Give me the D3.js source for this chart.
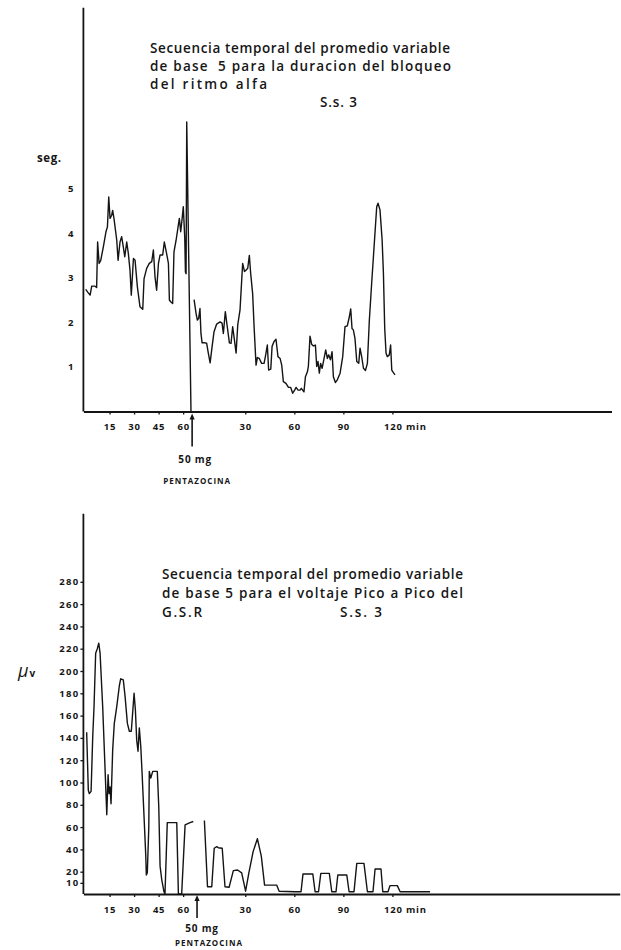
<!DOCTYPE html>
<html>
<head>
<meta charset="utf-8">
<script src="https://cdn.jsdelivr.net/npm/d3@7"></script>
<style>
  html, body { margin: 0; padding: 0; background: #fff; }
  svg { display: block; }
  text { font-family: "Open Sans", "DejaVu Sans", sans-serif; fill: #161616; }
</style>
</head>
<body>
<script>
// ---------- Alpha-block duration (seconds), moving average of 5 ----------
// time in elapsed minutes from start of the record
const alphaPreMin = [0.4,2.0,3.1,4.1,6.1,7.1,7.7,8.6,9.6,11.2,12.8,13.7,14.5,15.3,16.3,16.9,17.7,19.4,20.2,21.4,
  22.4,23.4,24.3,25.5,26.5,27.5,28.3,29.6,30.6,32.0,33.6,35.3,36.1,37.7,39.3,40.8,41.8,42.8,43.8,44.9,
  45.9,47.5,48.5,49.9,51.0,51.6,52.4,53.6,54.4,55.7,56.9,57.7,58.5,59.3,60.1,61.0,61.4,61.8,62.2,64.8];
const alphaPreSec = [2.74,2.66,2.61,2.81,2.81,2.78,3.80,3.32,3.39,3.69,4.03,4.14,4.81,4.33,4.40,4.51,4.33,3.84,3.39,3.80,
  3.92,3.69,3.47,3.80,3.54,3.17,2.61,3.43,3.39,2.80,2.35,2.29,2.98,3.21,3.32,3.36,3.62,3.02,2.72,3.32,
  3.51,3.51,3.80,3.54,3.32,2.50,2.46,2.42,3.58,3.84,4.14,4.33,4.03,4.29,4.59,3.88,3.13,3.09,6.49,0];
const alphaPostMin = [66.7,67.9,68.7,69.5,70.3,70.9,71.6,73.4,74.4,75.4,76.5,77.7,78.9,80.5,82.6,83.8,84.6,85.8,87.0,88.3,
  89.3,90.3,91.1,92.4,93.4,94.8,95.6,96.4,97.5,98.5,99.5,100.5,101.3,102.5,103.4,104.6,105.4,106.6,108.0,109.5,
  110.3,111.5,112.3,113.6,114.4,115.6,116.8,118.0,119.3,120.3,121.3,122.9,124.4,125.8,127.0,128.2,129.1,130.3,131.5,132.3,
  133.1,133.9,134.8,136.0,136.6,137.6,138.6,139.7,140.9,141.7,142.5,143.3,144.1,145.0,146.2,147.2,148.2,149.0,150.1,151.1,
  151.9,153.1,154.3,156.0,157.6,159.0,160.4,161.7,162.5,163.3,164.1,165.1,166.2,167.4,168.2,169.2,170.3,171.5,172.7,173.9,
  175.3,176.8,178.4,179.2,180.4,181.7,182.5,183.3,184.1,184.9,186.1,186.9,187.6,188.6,189.6];
const alphaPostSec = [2.51,2.20,2.05,2.09,2.31,1.75,1.54,1.54,1.53,1.31,1.09,1.45,1.79,1.96,2.01,1.98,1.75,2.24,1.90,1.54,
  1.53,1.90,1.68,1.31,1.94,2.28,2.80,3.32,3.14,3.17,3.21,3.50,3.10,2.65,1.90,1.04,1.21,1.19,1.08,1.08,
  1.23,1.49,0.93,0.95,1.46,1.57,1.62,1.23,1.19,1.04,0.67,0.63,0.54,0.54,0.41,0.48,0.54,0.48,0.48,0.52,
  0.48,0.44,0.78,0.89,1.01,1.69,1.51,1.47,1.49,1.01,1.12,0.86,1.08,0.97,1.19,1.38,1.19,1.27,1.16,1.34,
  0.78,0.65,0.71,0.86,1.23,1.90,1.92,2.13,2.30,1.86,1.83,1.64,1.12,1.08,1.42,1.23,0.97,0.92,1.08,2.05,
  2.87,3.70,4.59,4.67,4.52,3.85,3.10,1.86,1.31,1.23,1.27,1.49,0.93,0.87,0.82];
const alphaTicks = [1, 2, 3, 4, 5];

// ---------- GSR peak-to-peak voltage (µV), moving average of 5 ----------
const gsrPreMin = [1.0,2.0,2.6,3.7,4.7,5.5,6.5,7.5,8.4,9.2,10.8,12.2,13.3,14.1,14.7,15.3,15.9,16.9,17.9,19.4,
  21.0,21.8,23.4,24.5,25.9,27.1,28.3,29.2,30.0,30.8,31.6,32.4,33.2,34.1,34.9,36.1,37.1,37.5,38.1,39.0,
  39.3,40.2,41.4,42.8,44.2,45.1,45.9,46.9,48.3,48.9,50.3,56.1,57.1,59.1,61.2,64.2,66.2];
const gsrPreUv = [145,93,90,92,141,168,216,220,225,216,168,114,71,107,90,96,81,129,153,168,
  187,193,192,177,153,146,146,164,180,165,138,128,149,132,108,69,36,17,19,60,
  110,104,110,110,110,78,25,13,2,0,64,64,0,0,62,64,65];
const gsrPostMin = [73.0,74.9,77.5,79.0,80.6,81.5,83.9,85.6,88.1,90.7,93.3,95.8,98.2,100.2,102.8,105.4,107.8,109.8,117.2,118.7,
  128.4,132.1,133.3,139.3,140.7,142.8,144.2,149.4,150.9,153.5,154.6,160.1,161.5,164.5,166.2,170.6,172.7,176.1,177.4,181.0,
  182.1,185.3,186.5,191.0,192.7,211.0];
const gsrPostUv = [66,6.5,6.5,41,42.5,41.5,41,6.5,6,21,21.5,19,2.5,19,38,49.6,34,8,8,2.5,
  2,2,18,18,2,2,18.5,18.5,2,2,17,17,2,2,27.5,27.5,2,2,22.4,22.4,
  2,2,7.5,7.5,2,2];
const gsrTicks = [10, 20, 40, 60, 80, 100, 120, 140, 160, 180, 200, 220, 240, 260, 280];

// ---------- shared time axis ----------
const preTicks = [15, 30, 45, 60];
const postTicks = [30, 60, 90, 120];
const postOrigin = 68;            // elapsed minute that counts as 0 after the injection
const alphaInjection = 65.5;      // arrow position on the upper record
const gsrInjection = 68.5;        // arrow position on the lower record
const timeTickVals = preTicks.concat(postTicks.map(d => d + postOrigin));
const timeTickText = preTicks.map(String).concat(postTicks.map(String));

const ink = "#141414";
const W = 621, H = 950;
const svg = d3.select("body").append("svg").attr("width", W).attr("height", H);

// ---------- helpers ----------
function drawTimeAxis(g, x, y0, pad) {
  const ax = d3.axisBottom(x)
    .tickValues(timeTickVals)
    .tickFormat((d, i) => timeTickText[i])
    .tickSize(3).tickSizeOuter(0).tickPadding(pad);
  const a = g.append("g").attr("transform", `translate(0,${y0})`).call(ax);
  a.select(".domain").attr("stroke", ink).attr("stroke-width", 1.8);
  a.selectAll(".tick line").attr("stroke", ink).attr("stroke-width", 1.3);
  a.selectAll(".tick text")
    .style("font-size", "9.5px").style("font-weight", 700).style("letter-spacing", "0.8px")
    .attr("fill", ink);
  // unit after the last label
  const last = timeTickVals[timeTickVals.length - 1];
  const lastText = a.selectAll(".tick text").filter((d) => d === last);
  lastText.attr("text-anchor", "start").attr("x", -9).text(timeTickText[timeTickText.length - 1] + " min");
  return a;
}

function drawArrow(g, xPos, yTip, len, label1, label2, y1, y2, dx1, dx2) {
  g.append("line").attr("x1", xPos).attr("x2", xPos)
    .attr("y1", yTip + 4).attr("y2", yTip + len)
    .attr("stroke", ink).attr("stroke-width", 1.6);
  g.append("path")
    .attr("d", `M${xPos},${yTip} L${xPos - 2.6},${yTip + 6} L${xPos + 2.6},${yTip + 6} Z`)
    .attr("fill", ink);
  g.append("text").attr("x", xPos + dx1).attr("y", y1).attr("text-anchor", "middle")
    .style("font-size", "10px").style("font-weight", 700).style("letter-spacing", "0.8px").text(label1);
  g.append("text").attr("x", xPos + dx2).attr("y", y2).attr("text-anchor", "middle")
    .style("font-size", "8px").style("font-weight", 700).style("letter-spacing", "1px").text(label2);
}

function titleLine(g, xPos, yPos, str, width, size) {
  const t = g.append("text").attr("x", xPos).attr("y", yPos)
    .style("font-size", size + "px").style("font-weight", 600).style("white-space", "pre")
    .text(str);
  if (width) t.attr("textLength", width).attr("lengthAdjust", "spacing");
  return t;
}

const line = (x, y) => d3.line().x(d => x(d[0])).y(d => y(d[1])).curve(d3.curveLinear);

// =========================== upper panel ===========================
const gTop = svg.append("g");
const xTop = d3.scaleLinear().domain([-1, 322]).range([83.4, 611.5]);
const yTop = d3.scaleLinear().domain([0, 5]).range([411.5, 188.5]);
const alphaAxisTop = 9.05;

gTop.append("line")
  .attr("x1", xTop(-1)).attr("x2", xTop(-1))
  .attr("y1", yTop(0)).attr("y2", yTop(alphaAxisTop))
  .attr("stroke", ink).attr("stroke-width", 1.8);

const yAxTop = gTop.append("g").attr("transform", `translate(${xTop(-1)},0)`)
  .call(d3.axisLeft(yTop).tickValues(alphaTicks).tickSize(0).tickPadding(10).tickFormat(d3.format("d")));
yAxTop.select(".domain").remove();
yAxTop.selectAll(".tick text").style("font-size", "9.5px").style("font-weight", 700).attr("fill", ink);

gTop.append("text").attr("x", 37).attr("y", 162)
  .style("font-size", "11.5px").style("font-weight", 700).style("letter-spacing", "0.6px").text("seg.");

drawTimeAxis(gTop, xTop, yTop(0), 9);

gTop.append("path").datum(d3.zip(alphaPreMin, alphaPreSec))
  .attr("d", line(xTop, yTop)).attr("fill", "none")
  .attr("stroke", ink).attr("stroke-width", 1.4).attr("stroke-linejoin", "round");
gTop.append("path").datum(d3.zip(alphaPostMin, alphaPostSec))
  .attr("d", line(xTop, yTop)).attr("fill", "none")
  .attr("stroke", ink).attr("stroke-width", 1.4).attr("stroke-linejoin", "round");

drawArrow(gTop, xTop(alphaInjection), yTop(0) + 2, 33, "50 mg", "PENTAZOCINA", 463, 484, 3, 5);

titleLine(gTop, 150, 53, "Secuencia temporal del promedio variable", 300, 13.5);
titleLine(gTop, 150, 71, "de base  5 para la duracion del bloqueo", 301, 13.5);
titleLine(gTop, 150, 89, "del ritmo alfa", 117, 13.5);
titleLine(gTop, 320, 107, "S.s. 3", 37, 13.5);

// =========================== lower panel ===========================
const gBot = svg.append("g");
const xBot = d3.scaleLinear().domain([-1, 327]).range([83.4, 619.7]);
const yBot = d3.scaleLinear().domain([0, 280]).range([894, 581.8]);
const gsrAxisTop = 341;

gBot.append("line")
  .attr("x1", xBot(-1)).attr("x2", xBot(-1))
  .attr("y1", yBot(0)).attr("y2", yBot(gsrAxisTop))
  .attr("stroke", ink).attr("stroke-width", 1.8);

const yAxBot = gBot.append("g").attr("transform", `translate(${xBot(-1)},0)`)
  .call(d3.axisLeft(yBot).tickValues(gsrTicks).tickSize(3).tickPadding(1).tickFormat(d3.format("d")));
yAxBot.select(".domain").remove();
yAxBot.selectAll(".tick line").attr("stroke", ink).attr("stroke-width", 1.3);
yAxBot.selectAll(".tick text").style("font-size", "9.5px").style("font-weight", 700)
  .style("letter-spacing", "1.3px").attr("fill", ink);

const mu = gBot.append("text").attr("x", 18).attr("y", 677);
mu.append("tspan").style("font-size", "18px").style("font-weight", 400).style("font-style", "italic").text("μ");
mu.append("tspan").style("font-size", "10px").style("font-weight", 700).attr("dx", 1).text("v");

drawTimeAxis(gBot, xBot, yBot(0), 9.5);

gBot.append("path").datum(d3.zip(gsrPreMin, gsrPreUv))
  .attr("d", line(xBot, yBot)).attr("fill", "none")
  .attr("stroke", ink).attr("stroke-width", 1.4).attr("stroke-linejoin", "round");
gBot.append("path").datum(d3.zip(gsrPostMin, gsrPostUv))
  .attr("d", line(xBot, yBot)).attr("fill", "none")
  .attr("stroke", ink).attr("stroke-width", 1.4).attr("stroke-linejoin", "round");

drawArrow(gBot, xBot(gsrInjection), yBot(0) + 1, 23, "50 mg", "PENTAZOCINA", 932, 946, 5, 12);

titleLine(gBot, 162, 579, "Secuencia temporal del promedio variable", 301, 13.5);
titleLine(gBot, 162, 598, "de base 5 para el voltaje Pico a Pico del", 301, 13.5);
titleLine(gBot, 162, 617, "G.S.R", 40, 13.5);
titleLine(gBot, 340, 617, "S.s. 3", 42, 13.5);
</script>
</body>
</html>
